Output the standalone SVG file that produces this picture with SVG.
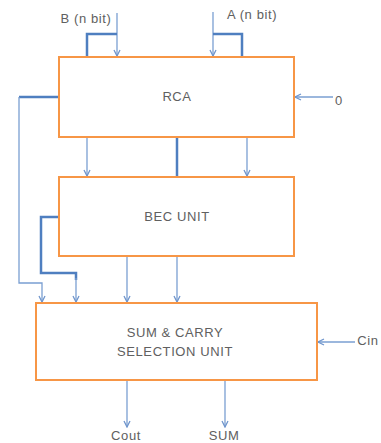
<svg xmlns="http://www.w3.org/2000/svg" width="381" height="443" viewBox="0 0 381 443">
<defs>
<marker id="arr" markerWidth="8" markerHeight="8" refX="7" refY="4" orient="auto" markerUnits="userSpaceOnUse">
<polyline points="1,1 7,4 1,7" fill="none" stroke="#6f95cc" stroke-width="1.3"/>
</marker>
</defs>
<style>
.box{fill:#fff;stroke:#f79646;stroke-width:2}
.t{font-family:"Liberation Sans",Arial,sans-serif;font-size:13px;fill:#606060;text-anchor:middle;letter-spacing:0.6px}
.thin{fill:none;stroke:#7a9fd2;stroke-width:1.3}
.thick{fill:none;stroke:#4f7fc0;stroke-width:2.5}
</style>
<rect width="381" height="443" fill="#fff"/>
<g id="connectors">
<path class="thin" d="M117 13 V56" marker-end="url(#arr)"/>
<path class="thick" d="M87 57 V34 H117"/>
<path class="thin" d="M213 12 V56" marker-end="url(#arr)"/>
<path class="thick" d="M213 34 H242 V57"/>
<path class="thick" d="M59 97 H19"/>
<path class="thin" d="M19 97 V283 H42 V302" marker-end="url(#arr)"/>
<path class="thin" d="M333 97 H295" marker-end="url(#arr)"/>
<path class="thin" d="M87 137 V176" marker-end="url(#arr)"/>
<path class="thick" d="M177 137 V177"/>
<path class="thin" d="M247 137 V176" marker-end="url(#arr)"/>
<path class="thick" d="M59 217 H41 V273 H76 V280"/>
<path class="thin" d="M76 278 V302" marker-end="url(#arr)"/>
<path class="thin" d="M127 256 V302" marker-end="url(#arr)"/>
<path class="thin" d="M177 256 V302" marker-end="url(#arr)"/>
<path class="thin" d="M355 342 H318" marker-end="url(#arr)"/>
<path class="thin" d="M127 380 V427" marker-end="url(#arr)"/>
<path class="thin" d="M225 380 V427" marker-end="url(#arr)"/>
</g>
<g id="rca">
<rect class="box" x="59" y="57" width="235" height="80"/>
<text class="t" x="177" y="101">RCA</text>
</g>
<g id="bec">
<rect class="box" x="59" y="177" width="235" height="79"/>
<text class="t" x="177" y="221">BEC UNIT</text>
</g>
<g id="sel">
<rect class="box" x="36" y="303" width="281" height="77"/>
<text class="t" x="175" y="337">SUM &amp; CARRY</text>
<text class="t" x="175" y="356">SELECTION UNIT</text>
</g>
<g id="labels">
<text class="t" x="86" y="23">B (n bit)</text>
<text class="t" x="252" y="19">A (n bit)</text>
<text class="t" x="339" y="105">0</text>
<text class="t" x="368" y="345">Cin</text>
<text class="t" x="126" y="440">Cout</text>
<text class="t" x="224" y="440">SUM</text>
</g>
</svg>
